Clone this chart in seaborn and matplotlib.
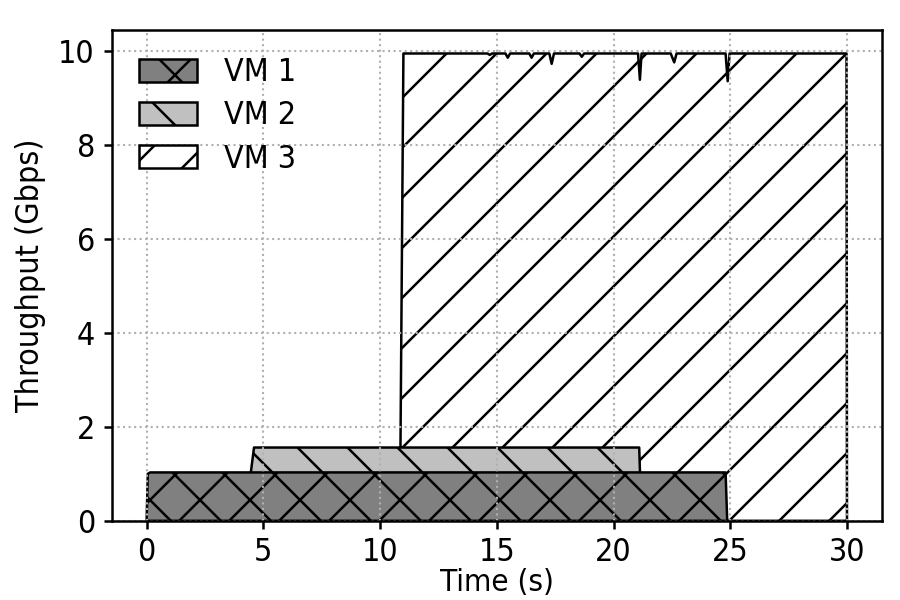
import matplotlib
matplotlib.use("Agg")
import matplotlib.pyplot as plt
import seaborn as sns
from matplotlib.patches import Patch
from matplotlib import font_manager

# --- data (time in s, throughput in Gbps) ---
vm1_time = [0.0, 0.05, 0.15, 24.80, 24.87]
vm1_tput = [0.0, 1.00, 1.03, 1.03, 0.0]

vm2_time = [4.20, 4.60, 21.10, 21.20]
vm2_tput = [0.0, 1.56, 1.56, 0.0]

vm3_time = [10.85, 11.00, 14.60, 14.70, 14.80, 15.37, 15.47, 15.57,
            16.39, 16.49, 16.59, 17.25, 17.35, 17.45, 18.54, 18.64, 18.74,
            21.05, 21.13, 21.20, 22.45, 22.60, 22.70, 24.80, 24.89, 24.97,
            29.98, 30.00]
vm3_tput = [0.0, 9.95, 9.95, 9.92, 9.95, 9.95, 9.86, 9.95,
            9.95, 9.86, 9.95, 9.95, 9.73, 9.95, 9.95, 9.88, 9.95,
            9.95, 9.39, 9.95, 9.95, 9.76, 9.95, 9.95, 9.36, 9.95,
            9.95, 0.0]

labels = ["VM 1", "VM 2", "VM 3"]
colors = ["#808080", "#c0c0c0", "#ffffff"]
hatches = ["xx", "\\\\", "//"]

sns.set_style("ticks")
# use the condensed DejaVu cut if it is installed
has_condensed = any("DejaVu Sans" in f.name and f.stretch == "condensed"
                    for f in font_manager.fontManager.ttflist)
plt.rcParams["font.family"] = ["DejaVu Sans"]
if has_condensed:
    plt.rcParams["font.stretch"] = "condensed"
    fsize = 7.7
else:
    fsize = 7.0
plt.rcParams["font.size"] = fsize
plt.rcParams["hatch.linewidth"] = 0.6
plt.rcParams["axes.linewidth"] = 0.6
plt.rcParams["text.color"] = "black"
plt.rcParams["axes.labelcolor"] = "black"
plt.rcParams["xtick.color"] = "black"
plt.rcParams["ytick.color"] = "black"
plt.rcParams["axes.edgecolor"] = "black"

fig, ax = plt.subplots(figsize=(3, 2), dpi=300)
fig.subplots_adjust(left=0.124, right=0.98, top=0.95, bottom=0.132)

# draw back to front: VM 3 behind, VM 1 in front
series = [(vm3_time, vm3_tput), (vm2_time, vm2_tput), (vm1_time, vm1_tput)]
for (t, v), c, h in zip(series, colors[::-1], hatches[::-1]):
    ax.fill_between(t, 0, v, facecolor=c, edgecolor="black",
                    hatch=h, linewidth=0.6, zorder=2)

ax.set_ylim(0, 10.45)
ax.set_xlim(-1.5, 31.5)
ax.set_xticks([0, 5, 10, 15, 20, 25, 30])
ax.set_yticks([0, 2, 4, 6, 8, 10])
ax.set_xlabel("Time (s)", labelpad=0, fontsize=fsize - 0.2)
ax.set_ylabel("Throughput (Gbps)", labelpad=3)
ax.tick_params(length=2, width=0.6, pad=2, labelsize=fsize)
for s in ax.spines.values():
    s.set_visible(True)
    s.set_linewidth(0.6)
    s.set_zorder(5)

ax.grid(True, linestyle=":", color="#b0b0b0", linewidth=0.5, zorder=4)
ax.set_axisbelow(False)

handles = [Patch(facecolor=c, edgecolor="black", hatch=h, linewidth=0.6)
           for c, h in zip(colors, hatches)]
ax.legend(handles, labels, loc="upper left", frameon=False,
          handlelength=1.8, handleheight=0.73, labelspacing=0.38,
          borderaxespad=0.45, handletextpad=0.85)

fig.savefig("out.png", dpi=300)
